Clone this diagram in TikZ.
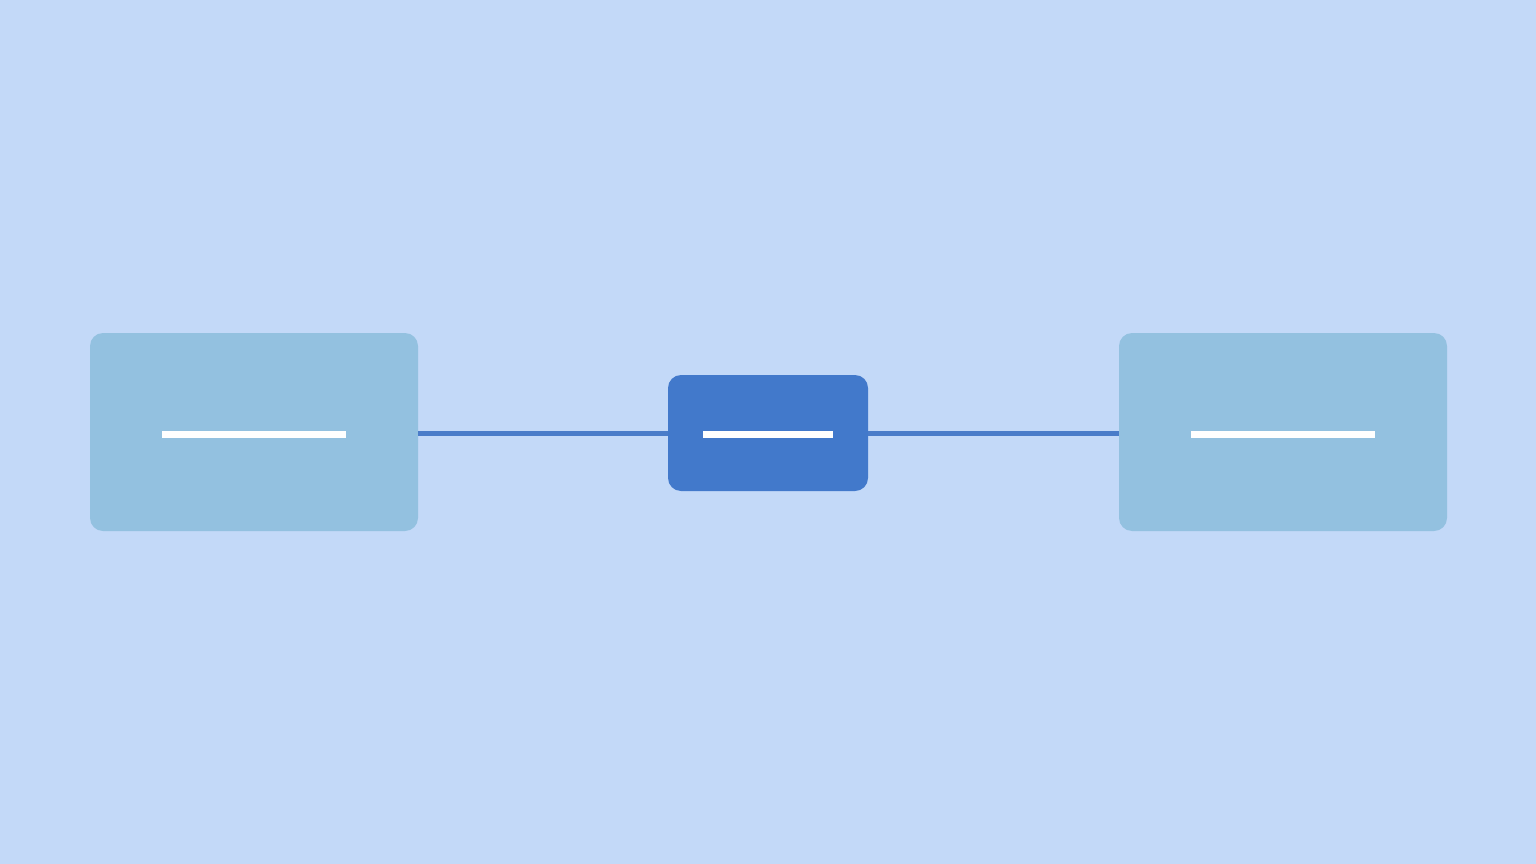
\documentclass[tikz,border=0pt]{standalone}
\begin{document}
\begin{tikzpicture}[x=1pt,y=-1pt,
  lightbox/.style={fill=boxlight,draw=none,rounded corners=13pt,inner sep=0pt},
  darkbox/.style={fill=boxdark,draw=none,rounded corners=13pt,inner sep=0pt},
  bar/.style={fill=white,draw=none,inner sep=0pt,minimum height=7pt},
  link/.style={draw=linkc,line width=5pt}]
\definecolor{bg}{HTML}{C3D9F8}
\definecolor{boxlight}{HTML}{93C1E0}
\definecolor{boxdark}{HTML}{4279CB}
\definecolor{linkc}{HTML}{4A7CC9}
\fill[bg] (0,0) rectangle (1536,864);
\useasboundingbox (0,0) rectangle (1536,864);
\node[lightbox,minimum width=328pt,minimum height=198pt] (L) at (254,432) {};
\node[darkbox,minimum width=200pt,minimum height=116pt] (M) at (768,433) {};
\node[lightbox,minimum width=328pt,minimum height=198pt] (R) at (1283,432) {};
\draw[link] (L.east |- 0,433.5) -- (M.west |- 0,433.5);
\draw[link] (M.east |- 0,433.5) -- (R.west |- 0,433.5);
\node[bar,minimum width=184pt] (bL) at (254,434.5) {};
\node[bar,minimum width=130pt] (bM) at (768,434.5) {};
\node[bar,minimum width=184pt] (bR) at (1283,434.5) {};
\end{tikzpicture}
\end{document}
